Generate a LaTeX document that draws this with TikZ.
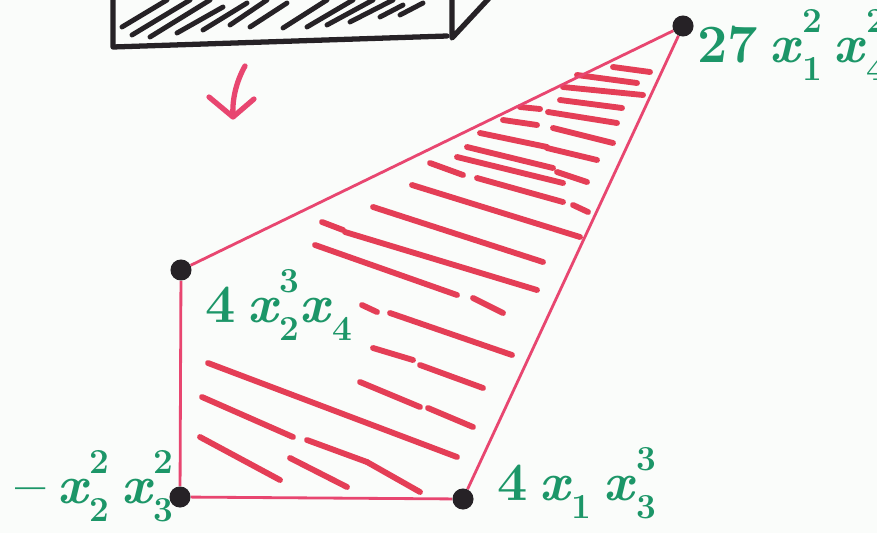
\documentclass[tikz,border=0pt]{standalone}
\definecolor{inkgreen}{RGB}{28,150,104}
\definecolor{inkpink}{RGB}{232,70,112}
\definecolor{inkred}{RGB}{228,62,86}
\definecolor{inkblack}{RGB}{38,34,38}
\definecolor{paper}{RGB}{250,252,250}
\newcommand{\labSS}[2]{\makebox[0pt][l]{\raisebox{-0.34em}{\fontsize{30}{30}\selectfont\upshape #2}}\raisebox{0.55em}{\fontsize{30}{30}\selectfont\upshape #1}}
\newcommand{\labSub}[1]{\raisebox{-0.34em}{\fontsize{30}{30}\selectfont\upshape #1}}
\newcommand{\gap}{\hspace{0.22em}}
\begin{document}
\begin{tikzpicture}[x=0.03cm,y=-0.03cm,
  vertex/.style={circle,fill=inkblack,inner sep=0pt,minimum size=18pt},
  edge/.style={inkpink,line width=2.4pt},
  hatch/.style={inkred,line width=5pt,line cap=round},
  boxhatch/.style={inkblack,line width=4.2pt,line cap=round},
  boxline/.style={inkblack,line width=4.5pt,line cap=round,line join=round},
  arrowink/.style={inkpink,line width=4.5pt,line cap=round,line join=round},
  lbl/.style={text=inkgreen,font=\fontsize{46}{50}\selectfont\bfseries,inner sep=0pt}]
\fill[paper] (0,0) rectangle (877,533);
\useasboundingbox (0,0) rectangle (877,533);
\clip (0,0) rectangle (877,533);

% black box (cut off at top)
\foreach \a/\b/\c/\d in {122/27/167/0, 132/35/190/0, 150/37/210/0, 177/33/223/7,
  203/30/247/3, 230/25/267/0, 250/27/287/3, 283/28/327/0, 307/27/353/0,
  327/25/373/0, 350/22/393/0, 380/17/403/5, 400/15/423/3}
  \draw[boxhatch] (\a,\b) -- (\c,\d);
\draw[boxline] (113,-5) -- (113,47) -- (447,36);
\draw[boxline] (452,-5) -- (452,38) -- (492,-5);

% pink arrow
\draw[arrowink] (245,66) .. controls (236,82) and (232,100) .. (233,116);
\draw[arrowink] (209,97) -- (233,117) -- (254,99);

% hatching inside polygon
\foreach \a/\b/\c/\d in {613/67/650/72, 577/75/637/83, 563/87/643/95, 560/100/622/108,
  520/107/540/109, 548/112/617/123, 503/120/537/125, 553/128/613/143,
  480/133/547/147, 547/148/597/160, 467/147/553/168, 457/157/563/183,
  557/172/587/182, 430/163/463/175, 477/178/563/202, 573/205/588/212,
  412/185/580/237, 373/207/543/262, 322/222/343/230, 345/232/537/290,
  315/245/457/295, 473/298/503/313, 362/305/377/312, 390/313/512/355,
  373/348/413/360, 420/365/483/388, 360/382/420/407, 428/408/473/427,
  208/363/457/457, 202/397/293/437, 307/440/367/462, 367/462/420/492,
  200/437/280/480, 290/458/347/487}
  \draw[hatch] (\a,\b) -- (\c,\d);

% vertices
\node[vertex] (A) at (181,270) {};
\node[vertex] (B) at (683,26) {};
\node[vertex] (C) at (463,499) {};
\node[vertex] (D) at (180,497) {};

% edges
\draw[edge] (A) -- (B);
\draw[edge] (B) -- (C);
\draw[edge] (C) -- (D);
\draw[edge] (D) -- (A);

% labels
\node[lbl,anchor=base west] (lB) at (697,62) {27\gap\textit{x}\labSS{2}{1}\gap\textit{x}\labSS{2}{4}};
\node[lbl,anchor=base west] (lA) at (205,322) {4\gap\textit{x}\labSS{3}{2}\textit{x}\labSub{4}};
\node[lbl,anchor=base east] (lD) at (174,503) {\textendash\gap\textit{x}\labSS{2}{2}\gap\textit{x}\labSS{2}{3}};
\node[lbl,anchor=base west] (lC) at (497,500) {4\gap\textit{x}\labSub{1}\gap\textit{x}\labSS{3}{3}};
\end{tikzpicture}
\end{document}
